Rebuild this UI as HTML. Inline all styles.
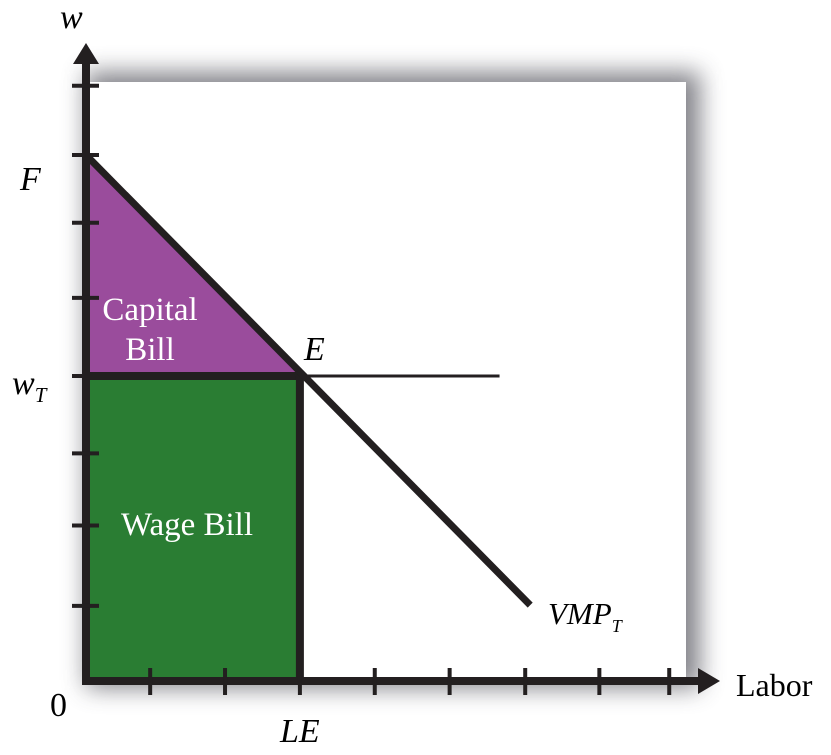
<!DOCTYPE html>
<html><head><meta charset="utf-8"><style>
body{margin:0;background:#fff;}
svg{display:block;font-family:"Liberation Serif",serif;}
</style></head><body>
<svg width="831" height="755" viewBox="0 0 831 755">
<defs>
<filter id="sh" x="-10%" y="-10%" width="130%" height="130%"><feGaussianBlur stdDeviation="12"/></filter>
</defs>
<rect x="86" y="72" width="614" height="616" fill="#6d6d75" opacity="0.85" filter="url(#sh)"/>
<rect x="86" y="82" width="600" height="599" fill="#fff"/>
<g id="marks"></g>
<g id="axes"></g>
<text x="60" y="28" font-size="34" font-style="italic">w</text>
<text x="736" y="696" font-size="32">Labor</text>
<text x="50" y="716" font-size="34">0</text>
<text x="20" y="190" font-size="34" font-style="italic">F</text>
<text x="12" y="394" font-size="34" font-style="italic">w<tspan font-size="21" dy="8">T</tspan></text>
<text x="280" y="742" font-size="34" font-style="italic">LE</text>
<text x="304" y="360" font-size="34" font-style="italic">E</text>
<text x="548" y="624" font-size="31" font-style="italic">VMP<tspan font-size="18" dy="8">T</tspan></text>
<text x="150" y="320" font-size="33" fill="#fff" text-anchor="middle">Capital</text>
<text x="150" y="360" font-size="33" fill="#fff" text-anchor="middle">Bill</text>
<text x="187" y="535" font-size="33" fill="#fff" text-anchor="middle">Wage Bill</text>
</svg>
<script>
const xTicks=[0.9,1.95,3,4.05,5.1,6.16,7.2,8.18];
const yTicks=[8,7.07,6.16,5.15,4.1,3.06,2.09,1.01];
const F=[7.07];
const wT=[4.1];
const LE=[3];
const vmpEnd=[6.23,1.02];
const wageLineEnd=[5.8];
const X0=86,Y0=681,XU=71.3,YU=74.4;
const sx=v=>X0+v*XU, sy=v=>Y0-v*YU;
const ns="http://www.w3.org/2000/svg";
function mk(tag,attrs,parent){const e=document.createElementNS(ns,tag);for(const k in attrs)e.setAttribute(k,attrs[k]);document.getElementById(parent).appendChild(e);return e;}
let e;
e=mk('polygon',{points:`${sx(0)},${sy(F[0])} ${sx(LE[0])},${sy(wT[0])} ${sx(0)},${sy(wT[0])}`,fill:'#9a4c9c'},'marks');


e=mk('rect',{x:sx(0),y:sy(wT[0]),width:sx(LE[0])-sx(0),height:sy(0)-sy(wT[0]),fill:'#2a7d33'},'marks');


e=mk('line',{x1:sx(0),y1:sy(wT[0]),x2:sx(wageLineEnd[0]),y2:sy(wT[0]),stroke:'#231f20','stroke-width':3},'marks');


e=mk('line',{x1:sx(0),y1:sy(wT[0]),x2:sx(LE[0]),y2:sy(wT[0]),stroke:'#231f20','stroke-width':8},'marks');


e=mk('line',{x1:sx(LE[0]),y1:sy(wT[0]),x2:sx(LE[0]),y2:sy(0),stroke:'#231f20','stroke-width':8},'marks');


e=mk('line',{x1:sx(0),y1:sy(F[0]),x2:sx(vmpEnd[0]),y2:sy(vmpEnd[1]),stroke:'#231f20','stroke-width':7},'marks');


e=mk('line',{x1:sx(0),y1:sy(0)+4,x2:sx(0),y2:60,stroke:'#231f20','stroke-width':8},'axes');


e=mk('polygon',{points:`${sx(0)-13},64 ${sx(0)},43 ${sx(0)+13},64`,fill:'#231f20'},'axes');


e=mk('line',{x1:sx(0)-4,y1:sy(0),x2:700,y2:sy(0),stroke:'#231f20','stroke-width':8},'axes');


e=mk('polygon',{points:`698,${sy(0)-13} 720,${sy(0)} 698,${sy(0)+13}`,fill:'#231f20'},'axes');


xTicks.forEach(t=>{
 const el=mk('line',{x1:sx(t),y1:sy(0)-13,x2:sx(t),y2:sy(0)+14,stroke:'#231f20','stroke-width':4},'axes');
 
 
});
yTicks.forEach(t=>{
 const el=mk('line',{x1:sx(0)-14,y1:sy(t),x2:sx(0)+13,y2:sy(t),stroke:'#231f20','stroke-width':4},'axes');
 
 
});
</script>
</body></html>
